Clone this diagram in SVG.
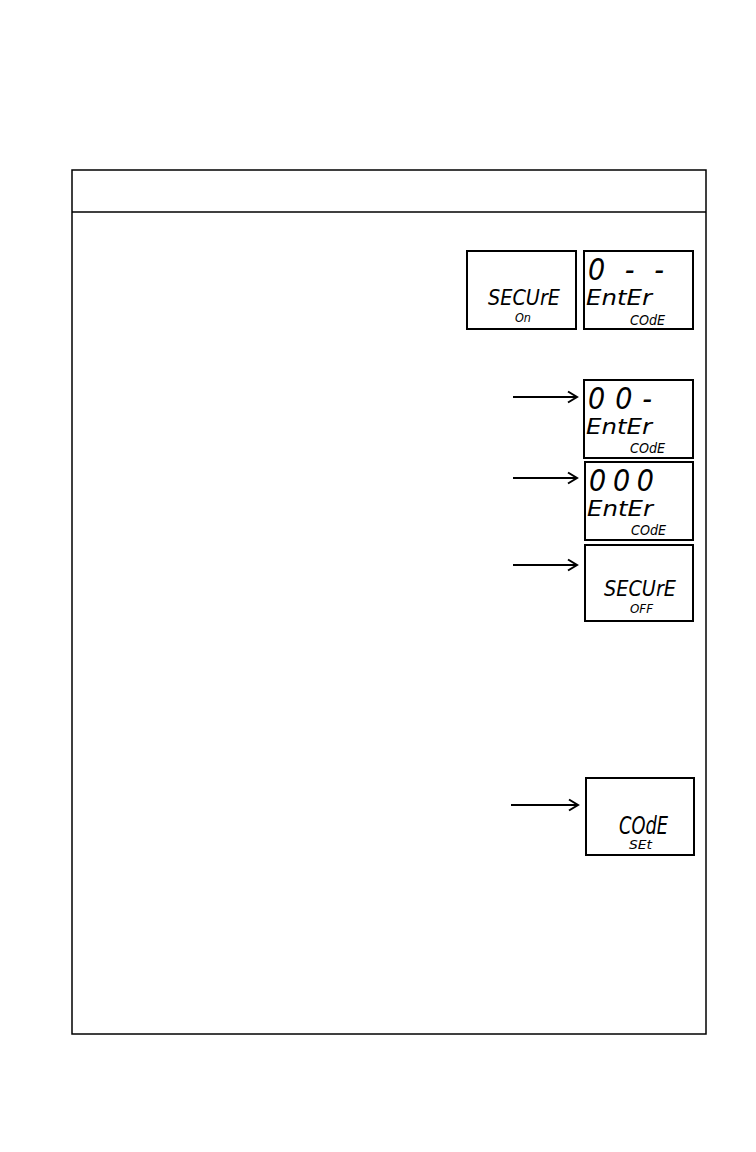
<svg xmlns="http://www.w3.org/2000/svg" width="756" height="1152" viewBox="0 0 756 1152">
<style>
.frame{fill:none;stroke:#000;stroke-width:1.5}
.lcd{fill:#fff;stroke:#000;stroke-width:2}
.seg{font-family:"DejaVu Sans Condensed","DejaVu Sans",sans-serif;font-style:italic;fill:#000}
.dig{font-family:"DejaVu Sans Condensed","DejaVu Sans",sans-serif;font-style:italic;fill:#000}
.arrow{stroke:#000;stroke-width:2;fill:none}
</style>
<defs>
<marker id="chev" markerWidth="14" markerHeight="14" refX="11" refY="7" orient="auto" markerUnits="userSpaceOnUse">
<path d="M2,1.5 L11,7 L2,12.5" fill="none" stroke="#000" stroke-width="2"/>
</marker>
</defs>
<rect width="756" height="1152" fill="#fff"/>
<g id="frame">
<rect class="frame" x="72" y="170" width="634" height="864"/>
<line class="frame" x1="72" y1="212" x2="706" y2="212"/>
</g>
<g id="lcd-secure-on">
<rect class="lcd" x="467" y="251" width="109" height="78"/>
<text class="seg" x="488" y="305" font-size="22" textLength="72" lengthAdjust="spacingAndGlyphs">SECUrE</text>
<text class="seg" x="515" y="322" font-size="12" textLength="16" lengthAdjust="spacingAndGlyphs">On</text>
</g>
<g id="lcd-enter-1">
<rect class="lcd" x="584" y="251" width="109" height="78"/>
<text class="dig" x="588" y="280" font-size="30" textLength="76" lengthAdjust="spacing">0--</text>
<text class="seg" x="586" y="305" font-size="22" textLength="66" lengthAdjust="spacingAndGlyphs">EntEr</text>
<text class="seg" x="630" y="325" font-size="14" textLength="35" lengthAdjust="spacingAndGlyphs">COdE</text>
</g>
<g id="lcd-enter-2">
<rect class="lcd" x="584" y="380" width="109" height="78"/>
<text class="dig" x="588" y="409" font-size="30" textLength="64" lengthAdjust="spacing">00-</text>
<text class="seg" x="586" y="434" font-size="22" textLength="66" lengthAdjust="spacingAndGlyphs">EntEr</text>
<text class="seg" x="630" y="453" font-size="14" textLength="35" lengthAdjust="spacingAndGlyphs">COdE</text>
</g>
<g id="lcd-enter-3">
<rect class="lcd" x="585" y="462" width="108" height="78"/>
<text class="dig" x="589" y="491" font-size="30" textLength="65" lengthAdjust="spacing">000</text>
<text class="seg" x="587" y="516" font-size="22" textLength="66" lengthAdjust="spacingAndGlyphs">EntEr</text>
<text class="seg" x="631" y="535" font-size="14" textLength="35" lengthAdjust="spacingAndGlyphs">COdE</text>
</g>
<g id="lcd-secure-off">
<rect class="lcd" x="585" y="545" width="108" height="76"/>
<text class="seg" x="604" y="596" font-size="22" textLength="72" lengthAdjust="spacingAndGlyphs">SECUrE</text>
<text class="seg" x="630" y="613" font-size="12" textLength="23" lengthAdjust="spacingAndGlyphs">OFF</text>
</g>
<g id="lcd-code-set">
<rect class="lcd" x="586" y="778" width="108" height="77"/>
<text class="seg" x="619" y="834" font-size="25" textLength="49" lengthAdjust="spacingAndGlyphs">COdE</text>
<text class="seg" x="629" y="849" font-size="12" textLength="23" lengthAdjust="spacingAndGlyphs">SEt</text>
</g>
<g id="connectors">
<line class="arrow" x1="513" y1="397" x2="577" y2="397" marker-end="url(#chev)"/>
<line class="arrow" x1="513" y1="478" x2="577" y2="478" marker-end="url(#chev)"/>
<line class="arrow" x1="513" y1="565" x2="577" y2="565" marker-end="url(#chev)"/>
<line class="arrow" x1="511" y1="805" x2="578" y2="805" marker-end="url(#chev)"/>
</g>
</svg>
